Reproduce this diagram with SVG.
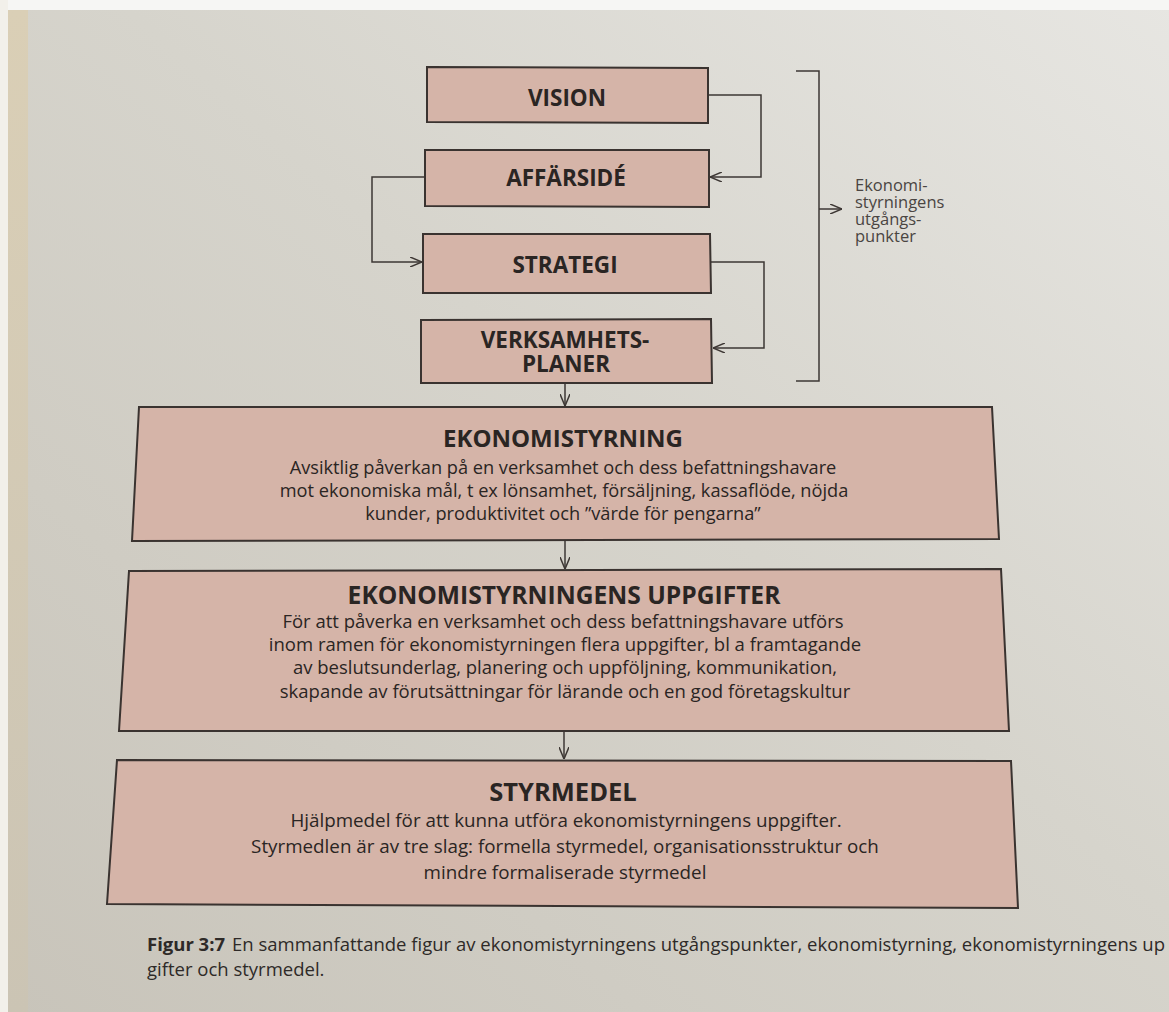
<svg xmlns="http://www.w3.org/2000/svg" width="1169" height="1012" viewBox="0 0 1169 1012">
  <defs>
    <linearGradient id="paper" x1="0" y1="1" x2="1" y2="0">
      <stop offset="0" stop-color="#c8c4ba"/>
      <stop offset="0.55" stop-color="#d6d4cc"/>
      <stop offset="1" stop-color="#e7e6e2"/>
    </linearGradient>
    <linearGradient id="edge" x1="0" y1="0" x2="0" y2="1">
      <stop offset="0" stop-color="#dacfb6"/>
      <stop offset="1" stop-color="#cbc4b4"/>
    </linearGradient>
    <marker id="arr" viewBox="0 0 12 10" refX="12" refY="5" markerWidth="12" markerHeight="10" markerUnits="userSpaceOnUse" orient="auto">
      <path d="M0,0 L12,5 L0,10" fill="none" stroke="#3d3734" stroke-width="1.5"/>
    </marker>
    <style>
      .box{fill:#d5b4a8;stroke:#3a3330;stroke-width:2;stroke-linejoin:miter}
      .t{font-family:"Open Sans","Noto Sans","Liberation Sans",sans-serif;font-weight:bold;fill:#2a2523;text-anchor:middle}
      .b{font-family:"Open Sans","Noto Sans","Liberation Sans",sans-serif;fill:#2a2523;text-anchor:middle}
      .c{fill:none;stroke:#3d3734;stroke-width:1.5}
      .side{font-family:"Open Sans","Noto Sans","Liberation Sans",sans-serif;fill:#4a4542;font-size:16.5px}
      .cap{font-family:"Open Sans","Noto Sans","Liberation Sans",sans-serif;fill:#2e2a28;font-size:18.5px}
    </style>
  </defs>

  <!-- paper background -->
  <rect x="0" y="0" width="1169" height="1012" fill="url(#paper)"/>
  <rect x="0" y="0" width="1169" height="10" fill="#f6f6f4"/>
  <rect x="0" y="0" width="8" height="1012" fill="#f2f0ea"/>
  <rect x="8" y="10" width="20" height="1002" fill="url(#edge)"/>

  <!-- connectors -->
  <g id="connectors">
    <polyline class="c" points="708,95 761,95 761,177 710,177" marker-end="url(#arr)"/>
    <polyline class="c" points="425,177 372,177 372,262 422,262" marker-end="url(#arr)"/>
    <polyline class="c" points="711,262 764,262 764,348 713,348" marker-end="url(#arr)"/>
    <polyline class="c" points="796,71 819,71 819,381 796,381"/>
    <line class="c" x1="819" y1="209" x2="842" y2="209" marker-end="url(#arr)"/>
    <line class="c" x1="565" y1="384" x2="565" y2="406" marker-end="url(#arr)"/>
    <line class="c" x1="565" y1="541" x2="565" y2="569" marker-end="url(#arr)"/>
    <line class="c" x1="564" y1="732" x2="564" y2="759" marker-end="url(#arr)"/>
  </g>

  <g id="vision">
    <polygon class="box" points="427,67 708,68 708,123 427,122"/>
    <text class="t" x="567" y="106" font-size="22.5">VISION</text>
  </g>
  <g id="affarside">
    <polygon class="box" points="425,150 709,150 709,207 425,206"/>
    <text class="t" x="566" y="186" font-size="22.5">AFFÄRSIDÉ</text>
  </g>
  <g id="strategi">
    <polygon class="box" points="423,234 710,234 711,293 423,293"/>
    <text class="t" x="565" y="273" font-size="22.5">STRATEGI</text>
  </g>
  <g id="verksamhetsplaner">
    <polygon class="box" points="421,320 711,319 712,383 421,383"/>
    <text class="t" x="565" y="348" font-size="22.5">VERKSAMHETS-</text>
    <text class="t" x="566" y="372" font-size="22.5">PLANER</text>
  </g>

  <g id="utgangspunkter">
    <text class="side" x="855" y="191"><tspan x="855">Ekonomi-</tspan><tspan x="855" dy="17">styrningens</tspan><tspan x="855" dy="17">utgångs-</tspan><tspan x="855" dy="17">punkter</tspan></text>
  </g>

  <g id="ekonomistyrning">
    <polygon class="box" points="139,407 992,407 999,539 132,541"/>
    <text class="t" x="563" y="447" font-size="24">EKONOMISTYRNING</text>
    <text class="b" x="563" y="474" font-size="18.2">Avsiktlig påverkan på en verksamhet och dess befattningshavare</text>
    <text class="b" x="564" y="497" font-size="18.2">mot ekonomiska mål, t ex lönsamhet, försäljning, kassaflöde, nöjda</text>
    <text class="b" x="563" y="520" font-size="18.2">kunder, produktivitet och ”värde för pengarna”</text>
  </g>

  <g id="uppgifter">
    <polygon class="box" points="129,571 1001,569 1009,731 119,731"/>
    <text class="t" x="564" y="604" font-size="24.6">EKONOMISTYRNINGENS UPPGIFTER</text>
    <text class="b" x="563" y="628" font-size="18.5">För att påverka en verksamhet och dess befattningshavare utförs</text>
    <text class="b" x="565" y="651" font-size="18.5">inom ramen för ekonomistyrningen flera uppgifter, bl a framtagande</text>
    <text class="b" x="565" y="674" font-size="18.5">av beslutsunderlag, planering och uppföljning, kommunikation,</text>
    <text class="b" x="565" y="698" font-size="18.5">skapande av förutsättningar för lärande och en god företagskultur</text>
  </g>

  <g id="styrmedel">
    <polygon class="box" points="117,760 1011,761 1018,908 107,904"/>
    <text class="t" x="563" y="801" font-size="25.5">STYRMEDEL</text>
    <text class="b" x="566" y="827" font-size="18.8">Hjälpmedel för att kunna utföra ekonomistyrningens uppgifter.</text>
    <text class="b" x="565" y="853" font-size="18.8">Styrmedlen är av tre slag: formella styrmedel, organisationsstruktur och</text>
    <text class="b" x="565" y="879" font-size="18.8">mindre formaliserade styrmedel</text>
  </g>

  <g id="caption">
    <text class="cap" x="147" y="951"><tspan font-weight="bold">Figur 3:7</tspan><tspan dx="7">En sammanfattande figur av ekonomistyrningens utgångspunkter, ekonomistyrning, ekonomistyrningens up</tspan></text>
    <text class="cap" x="147" y="976">gifter och styrmedel.</text>
  </g>
</svg>
